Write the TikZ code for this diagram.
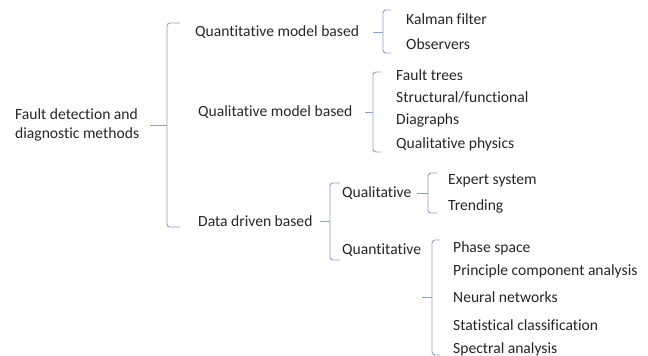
\documentclass[tikz,border=0pt]{standalone}
\usepackage{fontspec}
\setmainfont[RawFeature={-liga;-clig}]{Carlito}
\usetikzlibrary{positioning,calc}
\definecolor{brkblue}{RGB}{140,158,214}
\definecolor{txtgray}{RGB}{38,38,38}

\begin{document}
\begin{tikzpicture}[x=1pt,y=-1pt,font=\fontsize{15.6}{19}\selectfont,text=txtgray]
\tikzset{
  lbl/.style={anchor=west,inner sep=0pt,align=left},
  brk/.style={brkblue,line width=0.9pt,rounded corners=3pt},
  tick/.style={brkblue,line width=0.9pt}
}
\useasboundingbox (0,0) rectangle (648,356);
% root and first level
\node[lbl] (root) at (15,125) {Fault detection and\\diagnostic methods};
\node[lbl] (qnm) at (195,32) {Quantitative model based};
\node[lbl] (qlm) at (198,112) {Qualitative model based};
\node[lbl] (dd) at (198,221) {Data driven based};
% quantitative model based
\node[lbl] (kal) at (406,19) {Kalman filter};
\node[lbl] (obs) at (406,44) {Observers};
% qualitative model based
\node[lbl] (ft) at (396,75) {Fault trees};
\node[lbl] (sf) at (396,97) {Structural/functional};
\node[lbl] (dg) at (396,120) {Diagraphs};
\node[lbl] (qp) at (396,144) {Qualitative physics};
% data driven based
\node[lbl] (ql) at (342,193) {Qualitative};
\node[lbl] (qn) at (342,250) {Quantitative};
\node[lbl] (es) at (448,181) {Expert system};
\node[lbl] (tr) at (448,206) {Trending};
\node[lbl] (ps) at (453,248) {Phase space};
\node[lbl] (pca) at (453,271) {Principle component analysis};
\node[lbl] (nn) at (453,297) {Neural networks};
\node[lbl] (sc) at (453,325) {Statistical classification};
\node[lbl] (sa) at (453,349) {Spectral analysis};

% brackets: top, bottom, then the tick from the parent
\coordinate (b1t) at (167,23);  \coordinate (b1b) at (167,227);
\draw[brk] ($(b1t)+(13,0)$) -- (b1t) -- (b1b) -- ($(b1b)+(13,0)$);
\draw[tick] ([xshift=11pt]root.east) -- (root.east -| b1t);

\coordinate (b2t) at (383,10);  \coordinate (b2b) at (383,53);
\draw[brk] ($(b2t)+(8,0)$) -- (b2t) -- (b2b) -- ($(b2b)+(8,0)$);
\draw[tick] ([xshift=14pt]qnm.east) -- (qnm.east -| b2t);

\coordinate (b3t) at (373,72);  \coordinate (b3b) at (373,152);
\draw[brk] ($(b3t)+(8,0)$) -- (b3t) -- (b3b) -- ($(b3b)+(8,0)$);
\draw[tick] ([xshift=12pt]qlm.east) -- (qlm.east -| b3t);

\coordinate (b4t) at (330,183); \coordinate (b4b) at (330,260);
\draw[brk] ($(b4t)+(10,0)$) -- (b4t) -- (b4b) -- ($(b4b)+(10,0)$);
\draw[tick] ([xshift=7pt]dd.east) -- (dd.east -| b4t);

\coordinate (b5t) at (428,173); \coordinate (b5b) at (428,213);
\draw[brk] ($(b5t)+(9,0)$) -- (b5t) -- (b5b) -- ($(b5b)+(9,0)$);
\draw[tick] ([xshift=5pt]ql.east) -- (ql.east -| b5t);

\coordinate (b6t) at (432,240); \coordinate (b6b) at (432,355);
\draw[brk] ($(b6t)+(8,0)$) -- (b6t) -- (b6b) -- ($(b6b)+(8,0)$);
\draw[tick] ([xshift=-31pt]nn.west) -- (nn.west -| b6t);
\end{tikzpicture}
\end{document}
